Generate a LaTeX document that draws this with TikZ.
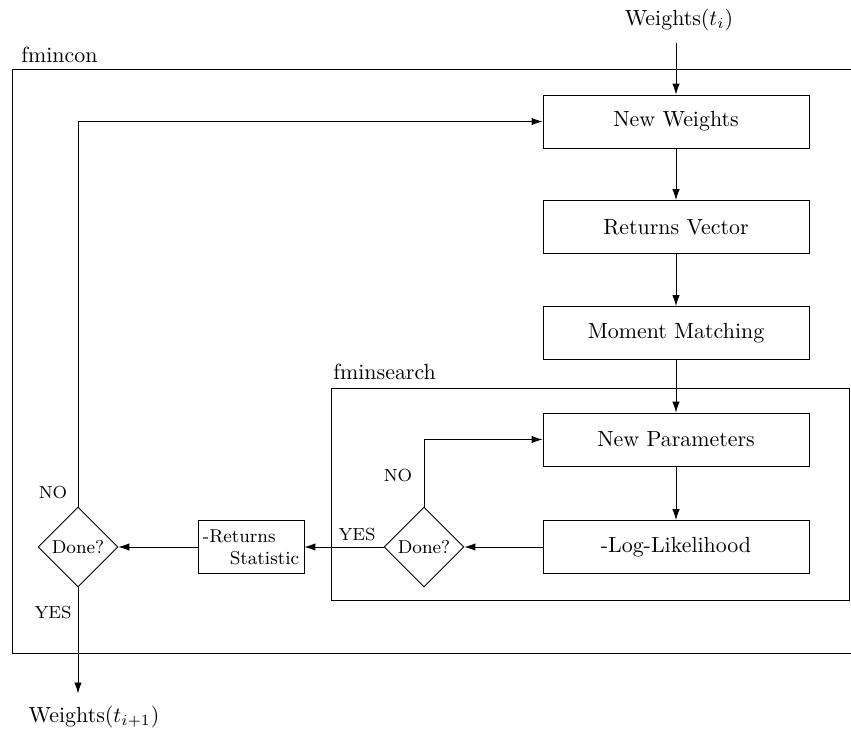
\documentclass[tikz,border=0pt]{standalone}
\usetikzlibrary{shapes.geometric,arrows.meta}
\begin{document}
\begin{tikzpicture}[x=0.4566pt,y=-0.4566pt,
  box/.style={draw, minimum width=121.5pt, minimum height=24.2pt, inner sep=0pt},
  dec/.style={draw, diamond, aspect=1, minimum width=36.5pt, minimum height=36.5pt, inner sep=0pt, font=\fontsize{8.5}{10}\selectfont},
  arr/.style={-{Latex[length=5pt,width=3.4pt]}},
  lab/.style={font=\footnotesize, inner sep=0pt},
  frametitle/.style={anchor=base west, inner sep=0pt}]
\useasboundingbox (0,0) rectangle (851,728);
% frames
\draw (851,69) -- (12,69) -- (12,653) -- (851,653);
\node[frametitle] (lcon) at (21,62) {fmincon};
\draw (331,388) rectangle (849,600);
\node[frametitle] (lsearch) at (333,379) {fminsearch};
% boxes
\node[box] (nw) at (676,121.5) {New Weights};
\node[box] (rv) at (676,227) {Returns Vector};
\node[box] (mm) at (676,333) {Moment Matching};
\node[box] (np) at (676,439.5) {New Parameters};
\node[box] (ll) at (676,547) {-Log-Likelihood};
\node[dec] (d2) at (424,547) {Done?};
\node[draw, minimum width=48.4pt, minimum height=24.2pt, inner sep=0pt, font=\fontsize{8.5}{10}\selectfont, align=left] (rs) at (251,547) {-Returns\\\hspace*{12.3pt}Statistic};
\node[dec] (d1) at (78,547) {Done?};
% in / out
\node[anchor=base] (win) at (679,25) {Weights$(t_i)$};
\node[anchor=base] (wout) at (94,722) {Weights$(t_{i+1})$};
% connectors
\draw[arr] ([yshift=-2pt]win.south -| nw.north) -- (nw.north);
\draw[arr] (nw) -- (rv);
\draw[arr] (rv) -- (mm);
\draw[arr] (mm) -- (np);
\draw[arr] (np) -- (ll);
\draw[arr] (ll.west) -- (d2.east);
\draw[arr] (d2.west) -- (rs.east);
\draw[arr] (rs.west) -- (d1.east);
\draw[arr] (d2.north) |- (np.west);
\draw[arr] (d1.north) |- (nw.west);
\draw[arr, shorten >=2pt] (d1.south) -- (d1.south |- wout.north);
% labels
\node[lab] (no1) at (53,493) {NO};
\node[lab] (yes1) at (53,613) {YES};
\node[lab] (no2) at (398,476) {NO};
\node[lab] (yes2) at (357,535) {YES};
\end{tikzpicture}
\end{document}
